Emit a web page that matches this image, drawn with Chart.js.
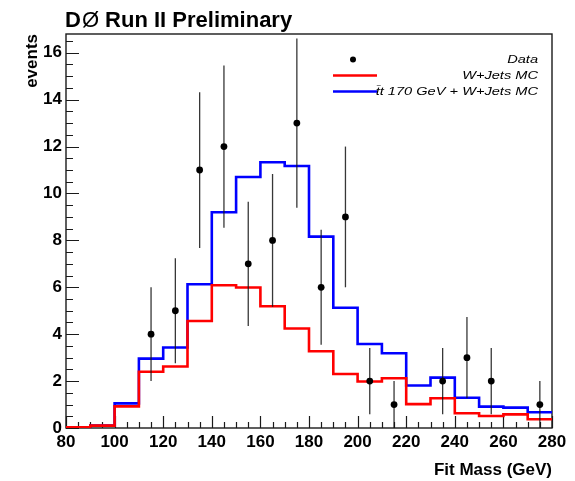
<!DOCTYPE html>
<html>
<head>
<meta charset="utf-8">
<script src="https://cdn.jsdelivr.net/npm/chart.js@4/dist/chart.umd.min.js"></script>
<style>
  html, body { margin: 0; padding: 0; background: #ffffff; }
  canvas { display: block; }
</style>
</head>
<body>
<canvas id="c" width="575" height="481"></canvas>
<script>
// Fit mass histogram: bin edges (GeV), 10 GeV bins
const binEdges = [80, 90, 100, 110, 120, 130, 140, 150, 160, 170, 180,
                  190, 200, 210, 220, 230, 240, 250, 260, 270, 280];

// W+Jets Monte Carlo expectation per bin
const wjetsMC = [0.03, 0.1, 0.92, 2.4, 2.62, 4.56, 6.09, 5.99, 5.19, 4.24,
                 3.27, 2.3, 1.98, 2.12, 1.02, 1.27, 0.63, 0.51, 0.58, 0.37];

// ttbar (170 GeV) + W+Jets Monte Carlo expectation per bin
const ttbarPlusWjets = [0.03, 0.1, 1.05, 2.96, 3.43, 6.13, 9.2, 10.7, 11.33, 11.17,
                        8.16, 5.13, 3.58, 3.19, 1.81, 2.15, 1.29, 0.91, 0.87, 0.67];

// Observed data: bin centres, event counts and statistical uncertainties
const dataMass   = [115, 125, 135, 145, 155, 165, 175, 185, 195, 205, 215, 235, 245, 255, 275];
const dataEvents = [4, 5, 11, 12, 7, 8, 13, 6, 9, 2, 1, 2, 3, 2, 1];
const dataError  = [2.0, 2.24, 3.32, 3.46, 2.65, 2.83, 3.61, 2.45, 3.0, 1.41, 1.0, 1.41, 1.73, 1.41, 1.0];

// Axis tick labels
const xTickValues = [80, 100, 120, 140, 160, 180, 200, 220, 240, 260, 280];
const yTickValues = [0, 2, 4, 6, 8, 10, 12, 14, 16];

const FONT = '"Liberation Sans", Arial, Helvetica, sans-serif';

function stepPoints(values) {
  const pts = values.map((v, i) => ({ x: binEdges[i], y: v }));
  pts.push({ x: binEdges[values.length], y: values[values.length - 1] });
  return pts;
}

// Error bars for the data points, drawn just before the markers
const errorBars = {
  id: 'errorBars',
  beforeDatasetDraw(chart, args) {
    if (args.index !== 2) return;
    const { ctx, scales: { x, y } } = chart;
    ctx.save();
    ctx.strokeStyle = 'rgba(20,20,20,0.85)';
    ctx.lineWidth = 1.3;
    dataMass.forEach((m, i) => {
      const px = x.getPixelForValue(m);
      ctx.beginPath();
      ctx.moveTo(px, y.getPixelForValue(dataEvents[i] - dataError[i]));
      ctx.lineTo(px, y.getPixelForValue(dataEvents[i] + dataError[i]));
      ctx.stroke();
    });
    ctx.restore();
  }
};

// Frame around the plot and inward-pointing major/minor ticks
const frameTicks = {
  id: 'frameTicks',
  beforeDatasetsDraw(chart) {
    const { ctx, chartArea: a, scales: { x, y } } = chart;
    ctx.save();
    ctx.strokeStyle = '#1a1a1a';
    ctx.lineWidth = 1.4;
    ctx.strokeRect(a.left, a.top, a.right - a.left, a.bottom - a.top);
    ctx.lineWidth = 1.2;
    ctx.beginPath();
    for (let v = x.min; v <= x.max + 1e-9; v += 5) {
      const px = Math.round(x.getPixelForValue(v)) + 0.5;
      const len = (v % 20 === 0) ? 12 : 6;
      ctx.moveTo(px, a.bottom);
      ctx.lineTo(px, a.bottom - len);
    }
    for (let v = 0; v <= y.max + 1e-9; v += 0.5) {
      const py = Math.round(y.getPixelForValue(v)) + 0.5;
      const len = (Math.abs(v % 2) < 1e-9) ? 13 : 7;
      ctx.moveTo(a.left, py);
      ctx.lineTo(a.left + len, py);
    }
    ctx.stroke();
    ctx.restore();
  }
};

// Title and legend
const titleLegend = {
  id: 'titleLegend',
  afterDraw(chart) {
    const { ctx, chartArea: a } = chart;
    ctx.save();
    ctx.fillStyle = '#000';
    ctx.textBaseline = 'alphabetic';
    ctx.textAlign = 'left';
    let tx = a.left - 1;
    const ty = 27;
    ctx.font = 'bold 22px ' + FONT;
    ctx.fillText('D', tx, ty);
    tx += ctx.measureText('D').width + 1;
    ctx.font = '22px ' + FONT;
    ctx.fillText('Ø', tx, ty);
    tx += ctx.measureText('Ø').width;
    ctx.font = 'bold 22px ' + FONT;
    ctx.fillText(' Run II Preliminary', tx, ty);

    // legend entries
    const textRight = 538;
    const rows = [59.5, 75.5, 91.5];
    const labels = ['Data', 'W+Jets MC', 't\u0304t 170 GeV + W+Jets MC'];
    ctx.font = 'italic 11.5px ' + FONT;
    ctx.textBaseline = 'middle';
    ctx.textAlign = 'right';
    labels.forEach((lab, i) => {
      ctx.save();
      ctx.translate(textRight, rows[i]);
      ctx.scale(1.27, 1);
      ctx.fillText(lab, 0, 0);
      ctx.restore();
    });
    ctx.beginPath();
    ctx.arc(353, rows[0], 3, 0, Math.PI * 2);
    ctx.fill();
    ctx.lineWidth = 2.5;
    ctx.strokeStyle = '#ff0000';
    ctx.beginPath(); ctx.moveTo(333, rows[1]); ctx.lineTo(377, rows[1]); ctx.stroke();
    ctx.strokeStyle = '#0000ff';
    ctx.beginPath(); ctx.moveTo(333, rows[2]); ctx.lineTo(377, rows[2]); ctx.stroke();
    ctx.restore();
  }
};

new Chart(document.getElementById('c'), {
  type: 'line',
  data: {
    datasets: [
      {
        label: 'tt 170 GeV + W+Jets MC',
        data: stepPoints(ttbarPlusWjets),
        stepped: 'before',
        borderColor: '#0000ff',
        borderWidth: 2.6,
        pointRadius: 0,
        fill: false,
        borderJoinStyle: 'miter',
        order: 3
      },
      {
        label: 'W+Jets MC',
        data: stepPoints(wjetsMC),
        stepped: 'before',
        borderColor: '#ff0000',
        borderWidth: 2.6,
        pointRadius: 0,
        fill: false,
        borderJoinStyle: 'miter',
        order: 2
      },
      {
        label: 'Data',
        data: dataMass.map((m, i) => ({ x: m, y: dataEvents[i] })),
        showLine: false,
        pointRadius: 3.4,
        pointBackgroundColor: '#000',
        pointBorderColor: '#000',
        pointBorderWidth: 0,
        order: 1
      }
    ]
  },
  options: {
    responsive: false,
    devicePixelRatio: 1,
    animation: false,
    layout: { padding: { top: 34, right: 23, bottom: 0, left: 0 } },
    plugins: { legend: { display: false }, tooltip: { enabled: false }, title: { display: false } },
    scales: {
      x: {
        type: 'linear',
        min: 80,
        max: 280,
        afterFit(s) { s.height = 53; },
        afterBuildTicks(s) { s.ticks = xTickValues.map(v => ({ value: v })); },
        grid: { display: false, drawTicks: false },
        border: { display: false },
        ticks: {
          color: '#000',
          padding: 4,
          maxRotation: 0,
          autoSkip: false,
          font: { family: FONT, size: 17, weight: 'bold' }
        },
        title: {
          display: true,
          text: 'Fit Mass (GeV)',
          align: 'end',
          color: '#000',
          padding: { top: 6, bottom: 0 },
          font: { family: FONT, size: 17, weight: 'bold' }
        }
      },
      y: {
        type: 'linear',
        min: 0,
        max: 16.8,
        afterFit(s) { s.width = 66; },
        afterBuildTicks(s) { s.ticks = yTickValues.map(v => ({ value: v })); },
        grid: { display: false, drawTicks: false },
        border: { display: false },
        ticks: {
          color: '#000',
          padding: 4,
          autoSkip: false,
          font: { family: FONT, size: 17, weight: 'bold' }
        },
        title: {
          display: true,
          text: 'events',
          align: 'end',
          color: '#000',
          padding: { top: 22, bottom: 0 },
          font: { family: FONT, size: 17, weight: 'bold' }
        }
      }
    }
  },
  plugins: [frameTicks, errorBars, titleLegend]
});
</script>
</body>
</html>
